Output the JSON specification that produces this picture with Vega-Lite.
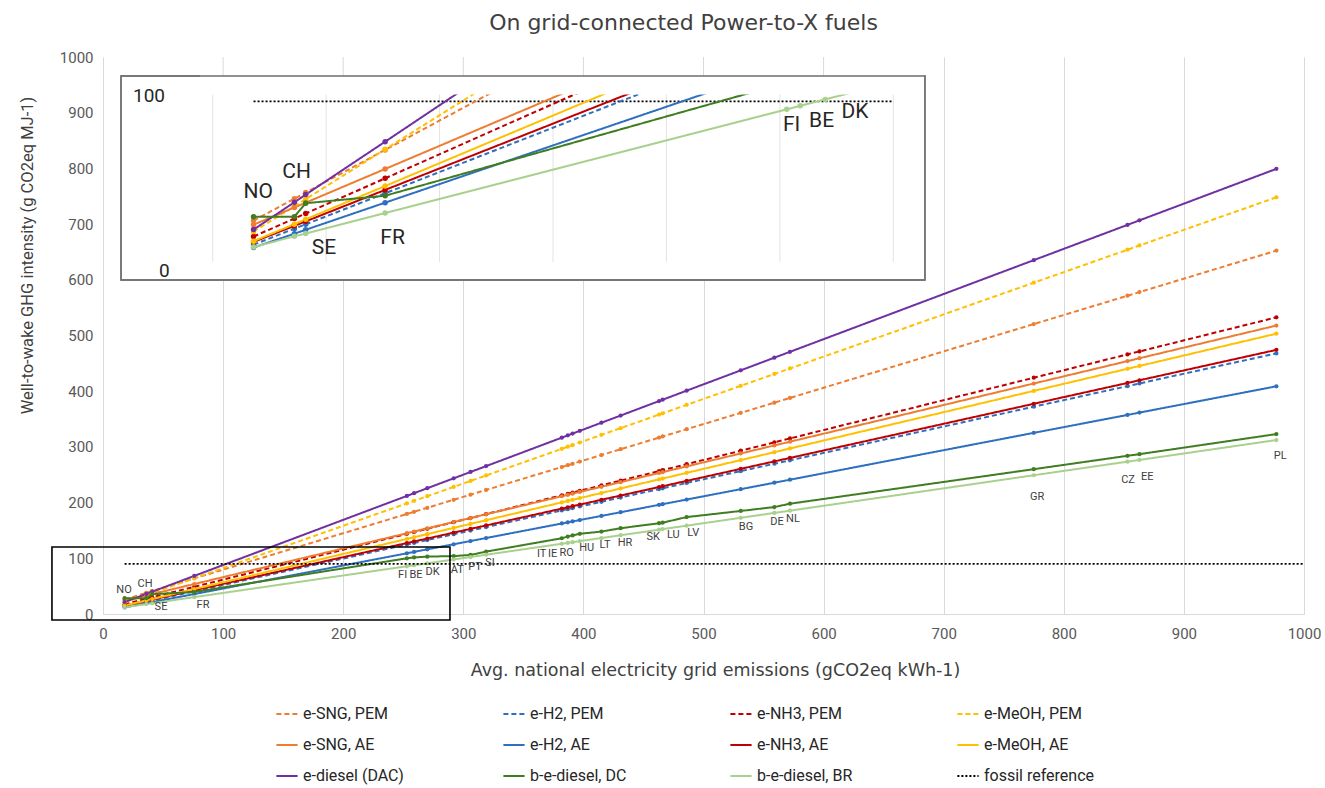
{
  "$schema": "https://vega.github.io/schema/vega-lite/v6.json",
  "width": 1201,
  "height": 557,
  "autosize": {"type": "none"},
  "padding": {"left": 103, "top": 57, "right": 21, "bottom": 174},
  "background": "white",
  "title": {"text": "On grid-connected Power-to-X fuels", "fontSize": 22, "fontWeight": "normal", "font": "DejaVu Sans", "color": "#404040", "offset": 15, "dx": -20},
  "config": {
    "font": "Roboto",
    "view": {"stroke": null},
    "legend": {
      "orient": "none", "legendX": 172, "legendY": 645, "columns": 4, "symbolType": "stroke",
      "symbolSize": 450, "symbolStrokeWidth": 2, "labelFontSize": 16, "labelFont": "Roboto",
      "labelColor": "#262626", "columnPadding": 85, "rowPadding": 11, "gridAlign": "all", "labelLimit": 300
    }
  },
  "datasets": {
    "c": [
      {"c":"NO","x":18,"e-SNG, PEM":26.2,"e-H2, PEM":13.3,"e-NH3, PEM":17.7,"e-MeOH, PEM":20.3,"e-SNG, AE":24.0,"e-H2, AE":11.8,"e-NH3, AE":14.8,"e-MeOH, AE":15.2,"e-diesel (DAC)":21.4,"b-e-diesel, DC":28.3,"b-e-diesel, BR":12.1},
      {"c":"CH","x":36,"e-SNG, PEM":37.9,"e-H2, PEM":21.9,"e-NH3, PEM":27.3,"e-MeOH, PEM":33.9,"e-SNG, AE":33.2,"e-H2, AE":19.2,"e-NH3, AE":23.4,"e-MeOH, AE":24.3,"e-diesel (DAC)":36.0,"b-e-diesel, DC":28.3,"b-e-diesel, BR":17.8},
      {"c":"SE","x":41,"e-SNG, PEM":41.2,"e-H2, PEM":24.2,"e-NH3, PEM":30.0,"e-MeOH, PEM":37.7,"e-SNG, AE":35.8,"e-H2, AE":21.3,"e-NH3, AE":25.8,"e-MeOH, AE":26.9,"e-diesel (DAC)":40.1,"b-e-diesel, DC":35.5,"b-e-diesel, BR":19.3},
      {"c":"FR","x":76,"e-SNG, PEM":64.0,"e-H2, PEM":40.8,"e-NH3, PEM":48.8,"e-MeOH, PEM":64.3,"e-SNG, AE":53.8,"e-H2, AE":35.8,"e-NH3, AE":42.6,"e-MeOH, AE":44.7,"e-diesel (DAC)":68.4,"b-e-diesel, DC":39.5,"b-e-diesel, BR":30.3},
      {"c":"FI","x":253,"e-SNG, PEM":179.6,"e-H2, PEM":124.7,"e-NH3, PEM":143.9,"e-MeOH, PEM":198.6,"e-SNG, AE":145.0,"e-H2, AE":109.0,"e-NH3, AE":127.4,"e-MeOH, AE":134.8,"e-diesel (DAC)":212.0,"b-e-diesel, DC":100,"b-e-diesel, BR":85.7},
      {"c":"BE","x":259,"e-SNG, PEM":183.5,"e-H2, PEM":127.6,"e-NH3, PEM":147.1,"e-MeOH, PEM":203.2,"e-SNG, AE":148.1,"e-H2, AE":111.5,"e-NH3, AE":130.3,"e-MeOH, AE":137.8,"e-diesel (DAC)":216.9,"b-e-diesel, DC":101.5,"b-e-diesel, BR":87.6},
      {"c":"DK","x":270,"e-SNG, PEM":190.7,"e-H2, PEM":132.8,"e-NH3, PEM":153.0,"e-MeOH, PEM":211.5,"e-SNG, AE":153.8,"e-H2, AE":116.1,"e-NH3, AE":135.5,"e-MeOH, AE":143.4,"e-diesel (DAC)":225.8,"b-e-diesel, DC":103,"b-e-diesel, BR":91.0},
      {"c":"AT","x":292,"e-SNG, PEM":205.1,"e-H2, PEM":143.2,"e-NH3, PEM":164.8,"e-MeOH, PEM":228.2,"e-SNG, AE":165.1,"e-H2, AE":125.2,"e-NH3, AE":146.1,"e-MeOH, AE":154.6,"e-diesel (DAC)":243.6,"b-e-diesel, DC":104,"b-e-diesel, BR":97.9},
      {"c":"PT","x":306,"e-SNG, PEM":214.2,"e-H2, PEM":149.8,"e-NH3, PEM":172.3,"e-MeOH, PEM":238.9,"e-SNG, AE":172.3,"e-H2, AE":131.0,"e-NH3, AE":152.8,"e-MeOH, AE":161.8,"e-diesel (DAC)":255.0,"b-e-diesel, DC":106,"b-e-diesel, BR":102.3},
      {"c":"SI","x":319,"e-SNG, PEM":222.7,"e-H2, PEM":156.0,"e-NH3, PEM":179.3,"e-MeOH, PEM":248.7,"e-SNG, AE":179.0,"e-H2, AE":136.4,"e-NH3, AE":159.0,"e-MeOH, AE":168.4,"e-diesel (DAC)":265.5,"b-e-diesel, DC":112,"b-e-diesel, BR":106.4},
      {"c":"IT","x":382,"e-SNG, PEM":263.9,"e-H2, PEM":185.9,"e-NH3, PEM":213.1,"e-MeOH, PEM":296.5,"e-SNG, AE":211.4,"e-H2, AE":162.5,"e-NH3, AE":189.2,"e-MeOH, AE":200.4,"e-diesel (DAC)":316.6,"b-e-diesel, DC":136,"b-e-diesel, BR":126.1},
      {"c":"IE","x":387,"e-SNG, PEM":267.1,"e-H2, PEM":188.2,"e-NH3, PEM":215.8,"e-MeOH, PEM":300.3,"e-SNG, AE":214.0,"e-H2, AE":164.5,"e-NH3, AE":191.6,"e-MeOH, AE":203.0,"e-diesel (DAC)":320.7,"b-e-diesel, DC":139,"b-e-diesel, BR":127.6},
      {"c":"RO","x":391,"e-SNG, PEM":269.7,"e-H2, PEM":190.1,"e-NH3, PEM":218.0,"e-MeOH, PEM":303.4,"e-SNG, AE":216.1,"e-H2, AE":166.2,"e-NH3, AE":193.5,"e-MeOH, AE":205.0,"e-diesel (DAC)":323.9,"b-e-diesel, DC":141,"b-e-diesel, BR":128.9},
      {"c":"HU","x":397,"e-SNG, PEM":273.6,"e-H2, PEM":193.0,"e-NH3, PEM":221.2,"e-MeOH, PEM":307.9,"e-SNG, AE":219.2,"e-H2, AE":168.7,"e-NH3, AE":196.4,"e-MeOH, AE":208.1,"e-diesel (DAC)":328.8,"b-e-diesel, DC":144,"b-e-diesel, BR":130.8},
      {"c":"LT","x":415,"e-SNG, PEM":285.4,"e-H2, PEM":201.5,"e-NH3, PEM":230.9,"e-MeOH, PEM":321.6,"e-SNG, AE":228.4,"e-H2, AE":176.1,"e-NH3, AE":205.0,"e-MeOH, AE":217.2,"e-diesel (DAC)":343.4,"b-e-diesel, DC":148,"b-e-diesel, BR":136.4},
      {"c":"HR","x":431,"e-SNG, PEM":295.8,"e-H2, PEM":209.1,"e-NH3, PEM":239.5,"e-MeOH, PEM":333.7,"e-SNG, AE":236.7,"e-H2, AE":182.7,"e-NH3, AE":212.7,"e-MeOH, AE":225.4,"e-diesel (DAC)":356.3,"b-e-diesel, DC":154,"b-e-diesel, BR":141.4},
      {"c":"SK","x":463,"e-SNG, PEM":316.7,"e-H2, PEM":224.3,"e-NH3, PEM":256.6,"e-MeOH, PEM":358.0,"e-SNG, AE":253.2,"e-H2, AE":196.0,"e-NH3, AE":228.0,"e-MeOH, AE":241.7,"e-diesel (DAC)":382.3,"b-e-diesel, DC":163,"b-e-diesel, BR":151.4},
      {"c":"LU","x":466,"e-SNG, PEM":318.7,"e-H2, PEM":225.7,"e-NH3, PEM":258.2,"e-MeOH, PEM":360.3,"e-SNG, AE":254.7,"e-H2, AE":197.2,"e-NH3, AE":229.4,"e-MeOH, AE":243.2,"e-diesel (DAC)":384.7,"b-e-diesel, DC":164,"b-e-diesel, BR":152.4},
      {"c":"LV","x":486,"e-SNG, PEM":331.8,"e-H2, PEM":235.2,"e-NH3, PEM":269.0,"e-MeOH, PEM":375.5,"e-SNG, AE":265.0,"e-H2, AE":205.5,"e-NH3, AE":239.0,"e-MeOH, AE":253.4,"e-diesel (DAC)":401.0,"b-e-diesel, DC":174,"b-e-diesel, BR":158.6},
      {"c":"BG","x":531,"e-SNG, PEM":361.1,"e-H2, PEM":256.5,"e-NH3, PEM":293.1,"e-MeOH, PEM":409.6,"e-SNG, AE":288.2,"e-H2, AE":224.1,"e-NH3, AE":260.6,"e-MeOH, AE":276.3,"e-diesel (DAC)":437.4,"b-e-diesel, DC":185,"b-e-diesel, BR":172.7},
      {"c":"DE","x":559,"e-SNG, PEM":379.4,"e-H2, PEM":269.8,"e-NH3, PEM":308.2,"e-MeOH, PEM":430.9,"e-SNG, AE":302.6,"e-H2, AE":235.7,"e-NH3, AE":274.0,"e-MeOH, AE":290.5,"e-diesel (DAC)":460.2,"b-e-diesel, DC":192,"b-e-diesel, BR":181.5},
      {"c":"NL","x":572,"e-SNG, PEM":387.9,"e-H2, PEM":275.9,"e-NH3, PEM":315.2,"e-MeOH, PEM":440.8,"e-SNG, AE":309.3,"e-H2, AE":241.1,"e-NH3, AE":280.2,"e-MeOH, AE":297.2,"e-diesel (DAC)":470.7,"b-e-diesel, DC":198,"b-e-diesel, BR":185.5},
      {"c":"GR","x":775,"e-SNG, PEM":520.5,"e-H2, PEM":372.2,"e-NH3, PEM":424.2,"e-MeOH, PEM":594.8,"e-SNG, AE":413.8,"e-H2, AE":325.2,"e-NH3, AE":377.4,"e-MeOH, AE":400.5,"e-diesel (DAC)":635.3,"b-e-diesel, DC":260,"b-e-diesel, BR":249.1},
      {"c":"CZ","x":853,"e-SNG, PEM":571.4,"e-H2, PEM":409.1,"e-NH3, PEM":466.1,"e-MeOH, PEM":654.0,"e-SNG, AE":454.0,"e-H2, AE":357.4,"e-NH3, AE":414.8,"e-MeOH, AE":440.2,"e-diesel (DAC)":698.6,"b-e-diesel, DC":284,"b-e-diesel, BR":273.5},
      {"c":"EE","x":863,"e-SNG, PEM":577.9,"e-H2, PEM":413.9,"e-NH3, PEM":471.4,"e-MeOH, PEM":661.6,"e-SNG, AE":459.2,"e-H2, AE":361.6,"e-NH3, AE":419.6,"e-MeOH, AE":445.3,"e-diesel (DAC)":706.7,"b-e-diesel, DC":287,"b-e-diesel, BR":276.6},
      {"c":"PL","x":977,"e-SNG, PEM":652.4,"e-H2, PEM":467.9,"e-NH3, PEM":532.6,"e-MeOH, PEM":748.1,"e-SNG, AE":517.9,"e-H2, AE":408.8,"e-NH3, AE":474.2,"e-MeOH, AE":503.3,"e-diesel (DAC)":799.2,"b-e-diesel, DC":323,"b-e-diesel, BR":312.3}
    ],
    "lab": [
      {"c":"NO","x":17.5,"v":43.1},{"c":"CH","x":35,"v":53.9},{"c":"SE","x":48.3,"v":12.6},{"c":"FR","x":83.3,"v":16.2},
      {"c":"FI","x":249.5,"v":70},{"c":"BE","x":260.6,"v":70},{"c":"DK","x":274.5,"v":76},
      {"c":"AT","x":295,"v":79},{"c":"PT","x":309.7,"v":84.9},{"c":"SI","x":322.2,"v":91},
      {"c":"IT","x":365.3,"v":107.7},{"c":"IE","x":374.4,"v":107.7},{"c":"RO","x":386.1,"v":109.5},{"c":"HU","x":402.7,"v":118.5},{"c":"LT","x":418,"v":123.9},{"c":"HR","x":434.6,"v":127.5},
      {"c":"SK","x":458.2,"v":137.7},{"c":"LU","x":474.9,"v":141.8},{"c":"LV","x":491.5,"v":146},
      {"c":"BG","x":535.4,"v":156.2},{"c":"DE","x":561.2,"v":165.2},{"c":"NL","x":574.5,"v":170.6},
      {"c":"GR","x":777.9,"v":210.8},{"c":"CZ","x":853.5,"v":241.1},{"c":"EE","x":869.4,"v":246.7},{"c":"PL","x":980.2,"v":284.4}
    ],
    "insetlab": [
      {"c":"NO","x":20.1,"v":41.7},{"c":"CH","x":37,"v":52.4},{"c":"SE","x":49,"v":11.4},{"c":"FR","x":79.3,"v":17},
      {"c":"FI","x":255.2,"v":77.3},{"c":"BE","x":268.4,"v":79.6},{"c":"DK","x":283.1,"v":84.4}
    ]
  },
  "resolve": {"scale": {"x": "independent", "y": "independent"}},
  "layer": [
    {
      "layer": [
        {
          "data": {"name": "c"},
          "transform": [{"fold": ["e-SNG, PEM","e-H2, PEM","e-NH3, PEM","e-MeOH, PEM","e-SNG, AE","e-H2, AE","e-NH3, AE","e-MeOH, AE","e-diesel (DAC)","b-e-diesel, DC","b-e-diesel, BR"], "as": ["series","v"]}],
          "mark": {"type": "line", "strokeWidth": 2},
          "encoding": {
            "x": {"field": "x", "type": "quantitative", "title": "Avg. national electricity grid emissions (gCO2eq kWh-1)",
                  "scale": {"domain": [0, 1000], "nice": false, "zero": false},
                  "axis": {"values": [0,100,200,300,400,500,600,700,800,900,1000], "format": "d", "labelFlush": false, "grid": true, "gridColor": "#d9d9d9", "domainColor": "#d9d9d9", "ticks": false,
                           "labelFontSize": 15, "labelColor": "#595959", "labelPadding": 12, "titleFont": "DejaVu Sans", "titleFontSize": 17.5, "titleFontWeight": "normal", "titleColor": "#404040", "titlePadding": 20, "titleX": 612}},
            "y": {"field": "v", "type": "quantitative", "title": "Well-to-wake GHG intensity (g CO2eq MJ-1)",
                  "scale": {"domain": [0, 1000], "nice": false, "zero": false},
                  "axis": {"values": [0,100,200,300,400,500,600,700,800,900,1000], "format": "d", "labelFlush": false, "grid": false, "domain": false, "ticks": false,
                           "labelFontSize": 15, "labelColor": "#595959", "labelPadding": 10, "titleFontSize": 16.5, "titleFontWeight": "normal", "titleColor": "#404040", "titlePadding": 24, "titleY": 198}},
            "color": {"field": "series", "type": "nominal", "legend": {"title": null},
                      "scale": {"domain": ["e-SNG, PEM","e-SNG, AE","e-diesel (DAC)","e-H2, PEM","e-H2, AE","b-e-diesel, DC","e-NH3, PEM","e-NH3, AE","b-e-diesel, BR","e-MeOH, PEM","e-MeOH, AE","fossil reference"],
                                "range": ["#ED7D31","#ED7D31","#7030A0","#2E6FC0","#2E6FC0","#3F7D20","#C00000","#C00000","#A9D18E","#FFC000","#FFC000","#000000"]}},
            "strokeDash": {"field": "series", "type": "nominal", "legend": {"title": null},
                      "scale": {"domain": ["e-SNG, PEM","e-SNG, AE","e-diesel (DAC)","e-H2, PEM","e-H2, AE","b-e-diesel, DC","e-NH3, PEM","e-NH3, AE","b-e-diesel, BR","e-MeOH, PEM","e-MeOH, AE","fossil reference"],
                                "range": [[5,3],[1,0],[1,0],[5,3],[1,0],[1,0],[5,3],[1,0],[1,0],[5,3],[1,0],[2,2]]}}
          }
        },
        {
          "data": {"name": "c"},
          "transform": [{"fold": ["e-SNG, PEM","e-H2, PEM","e-NH3, PEM","e-MeOH, PEM","e-SNG, AE","e-H2, AE","e-NH3, AE","e-MeOH, AE","e-diesel (DAC)","b-e-diesel, DC","b-e-diesel, BR"], "as": ["series","v"]}],
          "mark": {"type": "circle", "size": 18, "opacity": 1},
          "encoding": {
            "x": {"field": "x", "type": "quantitative", "title": "Avg. national electricity grid emissions (gCO2eq kWh-1)"},
            "y": {"field": "v", "type": "quantitative", "title": "Well-to-wake GHG intensity (g CO2eq MJ-1)"},
            "color": {"field": "series", "type": "nominal", "legend": null}
          }
        },
        {
          "data": {"values": [{"series": "fossil reference", "x": 18, "v": 90}, {"series": "fossil reference", "x": 1000, "v": 90}]},
          "mark": {"type": "line", "strokeWidth": 1.6},
          "encoding": {
            "x": {"field": "x", "type": "quantitative", "title": "Avg. national electricity grid emissions (gCO2eq kWh-1)"},
            "y": {"field": "v", "type": "quantitative", "title": "Well-to-wake GHG intensity (g CO2eq MJ-1)"},
            "color": {"field": "series", "type": "nominal", "legend": {"title": null}},
            "strokeDash": {"field": "series", "type": "nominal", "legend": {"title": null}}
          }
        },
        {
          "data": {"name": "lab"},
          "mark": {"type": "text", "fontSize": 11, "color": "#404040", "align": "center", "baseline": "middle"},
          "encoding": {
            "x": {"field": "x", "type": "quantitative", "title": "Avg. national electricity grid emissions (gCO2eq kWh-1)"},
            "y": {"field": "v", "type": "quantitative", "title": "Well-to-wake GHG intensity (g CO2eq MJ-1)"},
            "text": {"field": "c"}
          }
        },
        {
          "data": {"values": [{}]},
          "mark": {"type": "rect", "fillOpacity": 0, "stroke": "#000000", "strokeWidth": 1.6},
          "encoding": {
            "x": {"datum": -42.5, "type": "quantitative"}, "x2": {"datum": 288.9},
            "y": {"datum": -10.8, "type": "quantitative"}, "y2": {"datum": 120.3}
          }
        },
        {
          "data": {"values": [{}]},
          "mark": {"type": "rect", "fill": "#ffffff", "stroke": "#6f6f6f", "strokeWidth": 1.4},
          "encoding": {
            "x": {"datum": 15, "type": "quantitative"}, "x2": {"datum": 684.4},
            "y": {"datum": 599.6, "type": "quantitative"}, "y2": {"datum": 965.9}
          }
        }
      ]
    },
    {
      "layer": [
        {
          "data": {"values": [{"g": 0}, {"g": 50}, {"g": 100}, {"g": 150}, {"g": 200}, {"g": 250}, {"g": 300}]},
          "mark": {"type": "rule", "color": "#e3e3e3", "strokeWidth": 1},
          "encoding": {
            "x": {"field": "g", "type": "quantitative", "scale": {"domain": [0, 300], "range": [109.7, 790.3], "nice": false, "zero": false}, "axis": null},
            "y": {"datum": 4.1, "type": "quantitative", "scale": {"domain": [0, 94], "range": [212.6, 36.8], "nice": false, "zero": false}, "axis": null},
            "y2": {"datum": 94}
          }
        },
        {
          "data": {"values": [{"series": "fossil reference", "x": 18, "v": 90}, {"series": "fossil reference", "x": 300, "v": 90}]},
          "mark": {"type": "line", "strokeWidth": 1.8},
          "encoding": {
            "x": {"field": "x", "type": "quantitative", "axis": null},
            "y": {"field": "v", "type": "quantitative", "axis": null},
            "color": {"field": "series", "type": "nominal", "legend": null},
            "strokeDash": {"field": "series", "type": "nominal", "legend": null}
          }
        },
        {
          "data": {"name": "c"},
          "transform": [
            {"fold": ["e-SNG, PEM","e-H2, PEM","e-NH3, PEM","e-MeOH, PEM","e-SNG, AE","e-H2, AE","e-NH3, AE","e-MeOH, AE","e-diesel (DAC)","b-e-diesel, DC","b-e-diesel, BR"], "as": ["series","v"]},
            {"filter": "datum.x <= 292"}
          ],
          "mark": {"type": "line", "strokeWidth": 2, "clip": true},
          "encoding": {
            "x": {"field": "x", "type": "quantitative", "axis": null},
            "y": {"field": "v", "type": "quantitative", "axis": null},
            "color": {"field": "series", "type": "nominal", "legend": null},
            "strokeDash": {"field": "series", "type": "nominal", "legend": null}
          }
        },
        {
          "data": {"name": "c"},
          "transform": [
            {"fold": ["e-SNG, PEM","e-H2, PEM","e-NH3, PEM","e-MeOH, PEM","e-SNG, AE","e-H2, AE","e-NH3, AE","e-MeOH, AE","e-diesel (DAC)","b-e-diesel, DC","b-e-diesel, BR"], "as": ["series","v"]},
            {"filter": "datum.x <= 292"}
          ],
          "mark": {"type": "circle", "size": 30, "opacity": 1, "clip": true},
          "encoding": {
            "x": {"field": "x", "type": "quantitative", "axis": null},
            "y": {"field": "v", "type": "quantitative", "axis": null},
            "color": {"field": "series", "type": "nominal", "legend": null}
          }
        },
        {
          "data": {"name": "insetlab"},
          "mark": {"type": "text", "fontSize": 21, "color": "#262626", "align": "center", "baseline": "middle"},
          "encoding": {
            "x": {"field": "x", "type": "quantitative", "axis": null},
            "y": {"field": "v", "type": "quantitative", "axis": null},
            "text": {"field": "c"}
          }
        },
        {
          "data": {"values": [{"t": "100", "x": -21, "v": 93}, {"t": "0", "x": -19, "v": -1}]},
          "mark": {"type": "text", "fontSize": 19, "color": "#262626", "align": "right", "baseline": "middle"},
          "encoding": {
            "x": {"field": "x", "type": "quantitative", "axis": null},
            "y": {"field": "v", "type": "quantitative", "axis": null},
            "text": {"field": "t"}
          }
        }
      ]
    },
    {
      "layer": [
        {
          "data": {"values": [{}]},
          "mark": {"type": "rect", "fill": "#ffffff", "strokeWidth": 0},
          "encoding": {
            "x": {"datum": 80.8, "type": "quantitative", "scale": {"domain": [0, 1000], "nice": false, "zero": false}, "axis": null}, "x2": {"datum": 683.6},
            "y": {"datum": 932.7, "type": "quantitative", "scale": {"domain": [0, 1000], "nice": false, "zero": false}, "axis": null}, "y2": {"datum": 1000}
          }
        },
        {
          "data": {"values": [{"g": 100}, {"g": 200}, {"g": 300}, {"g": 400}, {"g": 500}, {"g": 600}]},
          "mark": {"type": "rule", "color": "#d9d9d9", "strokeWidth": 1},
          "encoding": {
            "x": {"field": "g", "type": "quantitative", "axis": null},
            "y": {"datum": 965.9, "type": "quantitative", "axis": null},
            "y2": {"datum": 1000}
          }
        },
        {
          "data": {"values": [{}]},
          "mark": {"type": "rect", "fillOpacity": 0, "stroke": "#6f6f6f", "strokeWidth": 1.4},
          "encoding": {
            "x": {"datum": 15, "type": "quantitative", "axis": null}, "x2": {"datum": 684.4},
            "y": {"datum": 599.6, "type": "quantitative", "axis": null}, "y2": {"datum": 965.9}
          }
        }
      ]
    }
  ]
}
